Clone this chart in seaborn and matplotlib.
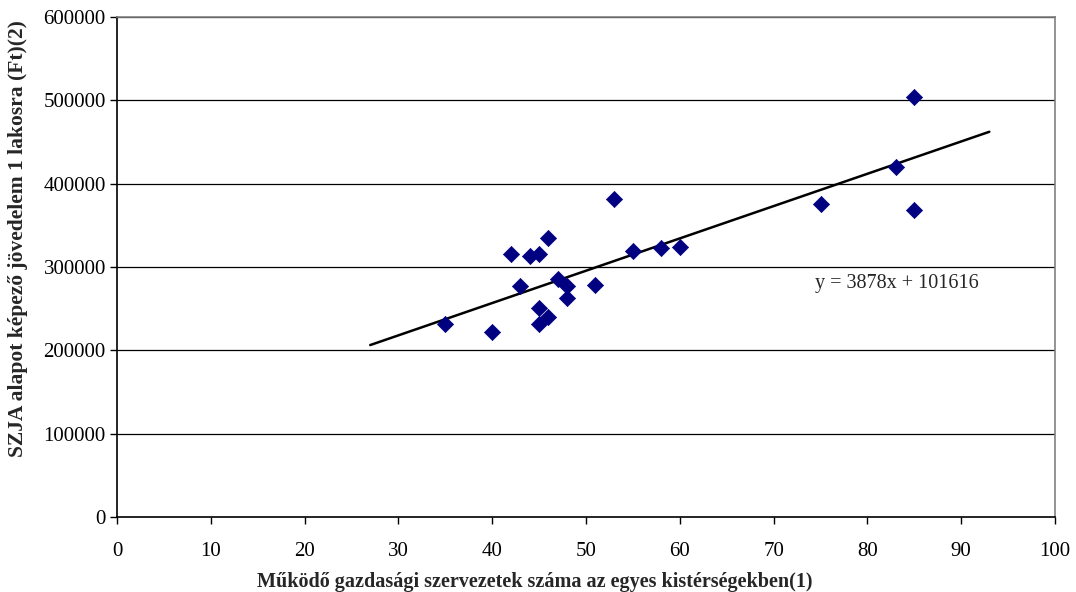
import matplotlib
matplotlib.use("Agg")
import matplotlib.pyplot as plt
import seaborn as sns
import numpy as np
import pandas as pd

# data
szervezetek = [35, 40, 42, 44, 45, 46, 43, 47, 48, 48, 45, 46, 45, 51, 53, 55, 58, 60, 85, 83, 75, 85]
jovedelem = [231000, 222000, 315000, 313000, 316000, 334500, 277000, 285500, 277500, 262500,
             251000, 239500, 231000, 278000, 382000, 319000, 322500, 323500, 503500, 419500, 375500, 368500]
slope = 3878
intercept = 101616
trend_x = [27, 93]

df = pd.DataFrame({'x': szervezetek, 'y': jovedelem})

sns.set_style('white')
plt.rcParams['font.family'] = ['Liberation Serif', 'DejaVu Serif']

fig = plt.figure(figsize=(10.76, 5.92), dpi=100)
ax = fig.add_axes([0.1087, 0.1267, 0.8718, 0.8446])

for v in range(100000, 600001, 100000):
    ax.axhline(v, color='black', lw=0.9, zorder=0)

sns.scatterplot(data=df, x='x', y='y', marker='D', s=68, color='#000080',
                edgecolor='#000080', linewidth=0.5, ax=ax, zorder=3)

tx = np.array(trend_x)
ax.plot(tx, slope * tx + intercept, color='black', lw=1.8, zorder=2)
ax.text(74.4, 279600, 'y = 3878x + 101616', fontsize=14.5, va='center', ha='left')

ax.set_xlim(0, 100)
ax.set_ylim(0, 600000)
ax.set_xticks(range(0, 101, 10))
ax.set_yticks(range(0, 600001, 100000))
ax.tick_params(axis='both', direction='out', length=5, width=1, labelsize=15, colors='black',
               left=True, bottom=True)
ax.tick_params(axis='x', pad=13)
ax.tick_params(axis='y', pad=3)
ax.set_xlabel('Működő gazdasági szervezetek száma az egyes kistérségekben(1)',
              fontsize=14.5, fontweight='bold')
ax.set_ylabel('SZJA alapot képező jövedelem 1 lakosra (Ft)(2)', fontsize=15.5, fontweight='bold')
ax.xaxis.set_label_coords(0.4456, -0.11)
ax.yaxis.set_label_coords(-0.0947, 0.556)

for side in ['left', 'bottom']:
    ax.spines[side].set_color('black')
    ax.spines[side].set_linewidth(1.2)
for side in ['top', 'right']:
    ax.spines[side].set_color('#808080')
    ax.spines[side].set_linewidth(1.2)

fig.savefig('out.png', dpi=100)
